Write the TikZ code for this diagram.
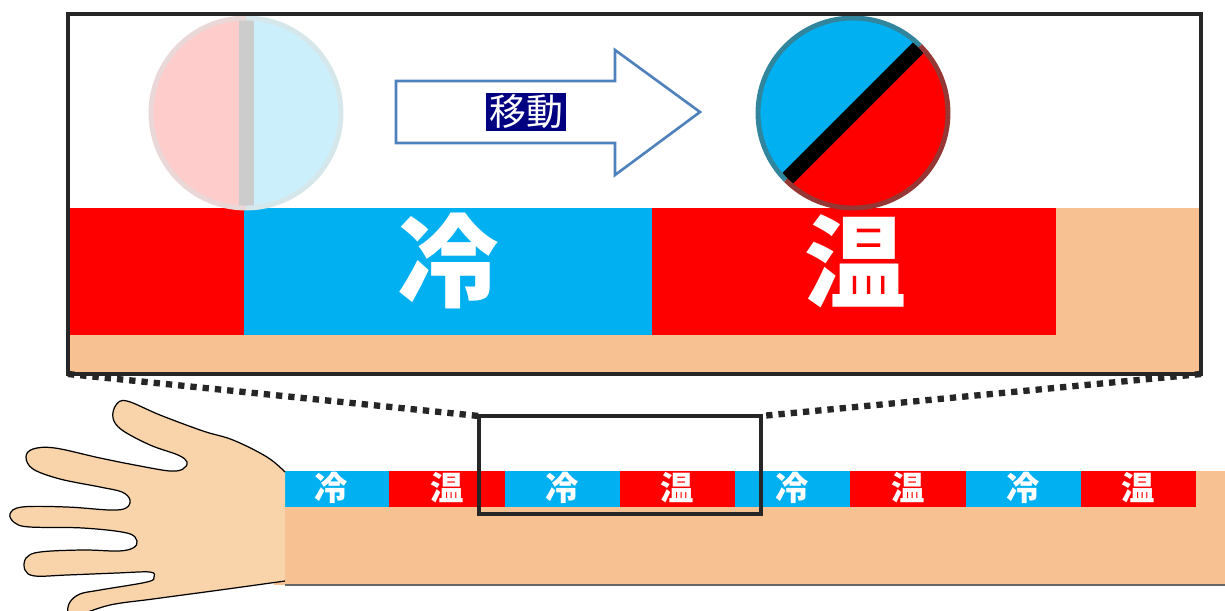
\documentclass[tikz,border=0pt]{standalone}
\usepackage{fontspec}
\newfontfamily\jp{Noto Sans CJK JP}
\usetikzlibrary{calc,positioning}

\definecolor{skin}{HTML}{F8C191}
\definecolor{palm}{HTML}{F9D3A9}
\definecolor{cold}{HTML}{00B0F0}
\definecolor{warm}{HTML}{FF0000}
\definecolor{coldedge}{HTML}{31859C}
\definecolor{warmedge}{HTML}{953735}
\definecolor{framegray}{HTML}{262626}
\definecolor{arrowblue}{HTML}{4F81BD}
\definecolor{tagnavy}{HTML}{000080}

\tikzset{
	zoombox/.style={draw=framegray, line width=2pt},
	zoomline/.style={draw=framegray, line width=3.6pt, dash pattern=on 3.6pt off 3.4pt},
	bigtag/.style={text=white, font=\jp\bfseries\fontsize{58}{58}\selectfont, inner sep=0pt},
	smalltag/.style={text=white, font=\jp\bfseries\fontsize{19}{19}\selectfont, inner sep=0pt},
	disc/.pic={
		\begin{scope}
			\clip (0,0) circle[radius=95];
			\fill[warm!#1] (-95,-95) rectangle (0,95);
			\fill[cold!#1] (0,-95) rectangle (95,95);
			\fill[black!#1] (-7.5,-95) rectangle (7.5,95);
		\end{scope}
		\draw[coldedge!#1, line width=2.8pt] (0,-95) arc[start angle=-90, end angle=90, radius=95];
		\draw[warmedge!#1, line width=2.8pt] (0,95) arc[start angle=90, end angle=270, radius=95];
	}
}

\begin{document}
\begin{tikzpicture}[x=0.02cm, y=-0.02cm]
		\useasboundingbox (0,0) rectangle (1225,610);
		\clip (0,0) rectangle (1225,610);
		% arm with the band
		\fill[skin] (274,471) rectangle (1225,585);
		\draw[black!60, line width=0.6pt] (285,585) -- (1225,585);
		\foreach \i in {0,...,3} {
			\fill[cold] ({274+230.5*\i},471) rectangle +(115.25,35.5);
			\fill[warm] ({389.25+230.5*\i},471) rectangle +(115.25,35.5);
			\node[smalltag] (c\i) at ({331.6+230.5*\i},488) {冷};
			\node[smalltag] (w\i) at ({446.9+230.5*\i},488) {温};
		}
		% hand
		\filldraw[fill=palm, draw=black, line width=0.7pt] plot[smooth, tension=0.6] coordinates {
			(285,472) (267,457) (233,440) (203,431) (160,415) (127,401) (116,405) (113,418) (122,430)
			(150,445) (178,455) (187,462) (183,469) (170,471) (140,466) (100,458) (55,448) (33,449)
			(26,457) (33,469) (60,479) (100,487) (122,492) (130,500) (126,508) (110,510) (67,507)
			(22,507) (10,514) (15,523) (30,527) (83,528) (127,533) (137,541) (133,548) (118,551)
			(83,550) (40,552) (26,558) (25,570) (35,576) (67,575) (117,573) (150,572) (154,577)
			(147,582) (100,590) (80,594) (70,602) (68,612) (75,616) (110,605) (153,599) (220,590) (285,581)};
		% enlarged view
		\coordinate (z1) at (68,14);
		\coordinate (z2) at (1201,374);
		\fill[skin] (68,208) rectangle (z2);
		\fill[warm] (68,208) rectangle (244,335);
		\fill[cold] (244,208) rectangle (652,335);
		\fill[warm] (652,208) rectangle (1056,335);
		\node[bigtag] (bigc) at (448,261) {冷};
		\node[bigtag] (bigw) at (855,261) {温};
		\pic (before) at (246,113) {disc=20};
		\pic[rotate=135] (after) at (853,113) {disc=100};
		\draw[arrowblue, line width=1.5pt] (396,81) -- (615,81) -- (615,50) -- (700,112) -- (615,175) -- (615,143) -- (396,143) -- cycle;
		\node[fill=tagnavy, text=white, font=\jp\fontsize{21}{21}\selectfont, inner xsep=1.5pt, inner ysep=1pt] (move) at (526,112) {移動};
		\draw[zoombox] (z1) rectangle (z2);
		% the part of the band that is enlarged
		\coordinate (s1) at (479,416);
		\coordinate (s2) at (761,514);
		\draw[zoombox] (s1) rectangle (s2);
		\draw[zoomline] (z1 |- z2) -- (s1);
		\draw[zoomline] (z2) -- (s2 |- s1);
	\end{tikzpicture}
\end{document}
